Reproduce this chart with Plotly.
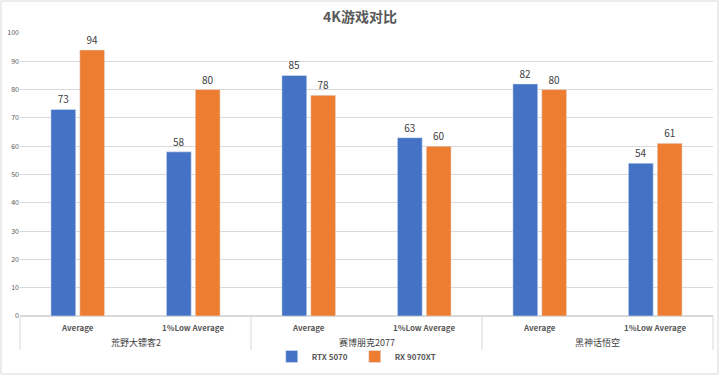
import plotly.graph_objects as go

games = ["荒野大镖客2", "荒野大镖客2", "赛博朋克2077", "赛博朋克2077", "黑神话悟空", "黑神话悟空"]
metrics = ["Average", "1%Low Average", "Average", "1%Low Average", "Average", "1%Low Average"]
rtx5070 = [73, 58, 85, 63, 82, 54]
rx9070xt = [94, 80, 78, 60, 80, 61]
yticks = [0, 10, 20, 30, 40, 50, 60, 70, 80, 90, 100]

fig = go.Figure()
fig.add_trace(go.Bar(x=[games, metrics], y=rtx5070, name="RTX 5070",
                     marker_color="#4472C4", text=rtx5070, textposition="outside",
                     textfont=dict(size=10, color="#404040")))
fig.add_trace(go.Bar(x=[games, metrics], y=rx9070xt, name="RX 9070XT",
                     marker_color="#ED7D31", text=rx9070xt, textposition="outside",
                     textfont=dict(size=10, color="#404040")))

# category labels drawn as annotations for finer control of their vertical placement
annotations = []
n = len(metrics)
for i, m in enumerate(metrics):
    annotations.append(dict(text=f"<b>{m}</b>", x=(i + 0.5) / n, xref="paper", y=-0.039, yref="paper",
                            showarrow=False, xanchor="center", yanchor="middle",
                            font=dict(size=8, color="#595959")))
unique_games = list(dict.fromkeys(games))
for k, g in enumerate(unique_games):
    annotations.append(dict(text=g, x=(2 * k + 1) / n, xref="paper", y=-0.094, yref="paper",
                            showarrow=False, xanchor="center", yanchor="middle",
                            font=dict(size=9, color="#404040")))

shapes = [dict(type="rect", xref="paper", yref="paper", x0=-0.0274, x1=1.0072,
               y0=-0.205, y1=1.113, line=dict(color="#d9d9d9", width=1), fillcolor="rgba(0,0,0,0)")]
for k in range(len(unique_games) + 1):
    shapes.append(dict(type="line", xref="paper", yref="paper", x0=k / len(unique_games),
                       x1=k / len(unique_games), y0=0, y1=-0.12,
                       line=dict(color="#d9d9d9", width=1)))

fig.update_layout(
    width=720, height=376,
    margin=dict(l=20, r=7, t=33, b=60, autoexpand=False),
    paper_bgcolor="white", plot_bgcolor="white",
    font=dict(family="Noto Sans CJK SC, Noto Sans, sans-serif", color="#595959"),
    title=dict(text="<b>4K游戏对比</b>", x=0.5, xanchor="center", y=0.955, yanchor="middle",
               font=dict(size=14, color="#595959")),
    barmode="group", bargap=0.5, bargroupgap=0.14,
    showlegend=True,
    legend=dict(orientation="h", x=0.483, xanchor="center", y=-0.143, yanchor="middle",
                bgcolor="rgba(0,0,0,0)", entrywidth=38, entrywidthmode="pixels",
                font=dict(size=8, color="#595959", weight="bold"), itemwidth=30),
    xaxis=dict(type="multicategory", showgrid=False, showline=True, linecolor="#d9d9d9",
               showticklabels=False, showdividers=False, automargin=False, ticks=""),
    yaxis=dict(range=[0, 100], tickvals=yticks, showgrid=True, gridcolor="#d9d9d9",
               zeroline=True, zerolinecolor="#d9d9d9", showline=False, automargin=False,
               tickfont=dict(size=7, color="#595959"), ticks=""),
    annotations=annotations,
    shapes=shapes,
)
fig.update_traces(cliponaxis=False)
fig.write_html("out.html", config={"displayModeBar": False},
               post_script="document.body.style.margin='0';")
